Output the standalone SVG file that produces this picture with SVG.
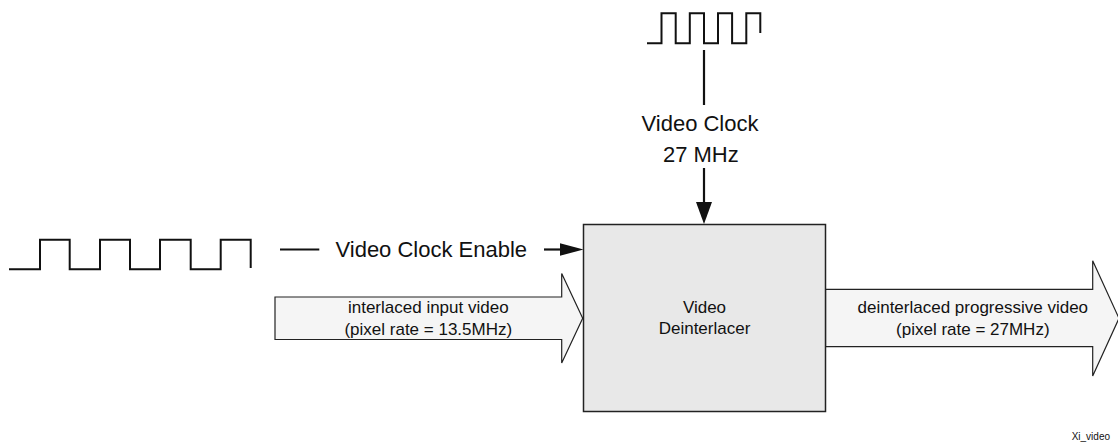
<svg xmlns="http://www.w3.org/2000/svg" width="1118" height="443" viewBox="0 0 1118 443">
  <style>
    text { font-family: "Liberation Sans", Arial, sans-serif; fill: #111; }
    .big { font-size: 22px; }
    .mid { font-size: 17px; text-anchor: middle; }
    .wave { fill: none; stroke: #111; stroke-width: 2; stroke-linejoin: miter; }
    .line { fill: none; stroke: #111; stroke-width: 2.2; }
    .fat { fill: #f5f5f5; stroke: #222; stroke-width: 1.2; }
  </style>
  <defs>
    <marker id="arrV" viewBox="0 0 16 22" refX="16" refY="8" markerUnits="userSpaceOnUse" markerWidth="16" markerHeight="22" orient="auto">
      <path d="M0,0 L22,8 L0,16 Z" fill="#111"/>
    </marker>
  </defs>

  <rect width="1118" height="443" fill="#ffffff"/>

  <g id="connectors">
    <!-- top clock waveform -->
    <path class="wave" d="M647,43.3 H661.5 V13.3 H675.7 V43.3 H689.8 V13.3 H704 V43.3 H718 V13.3 H732.1 V43.3 H746.3 V13.3 H760.3 V33"/>
    <line class="line" x1="704" y1="50" x2="704" y2="105"/>
    <line class="line" x1="704" y1="168" x2="704" y2="203"/>
    <polygon points="696,202 712,202 704,224" fill="#111"/>

    <!-- left clock enable waveform -->
    <path class="wave" d="M9,269.3 H40 V239.7 H69.7 V269.3 H100 V239.7 H130 V269.3 H160 V239.7 H190.7 V269.3 H220.7 V239.7 H250.7 V268"/>
    <line class="line" x1="280" y1="249.5" x2="319.3" y2="249.5"/>
    <line class="line" x1="544" y1="249.5" x2="562" y2="249.5"/>
    <polygon points="560,243.3 583.5,249.5 560,255.7" fill="#111"/>
  </g>

  <g id="input-arrow">
    <polygon class="fat" points="275,297 561.7,297 561.7,273.5 582.7,318.3 561.7,363 561.7,339.5 275,339.5"/>
    <text class="mid" x="428.3" y="313.3">interlaced input video</text>
    <text class="mid" x="428.3" y="335">(pixel rate = 13.5MHz)</text>
  </g>

  <g id="output-arrow">
    <polygon class="fat" points="825.5,289.3 1092.7,289.3 1092.7,260.7 1119,318.3 1092.7,376 1092.7,346.7 825.5,346.7"/>
    <text class="mid" x="972.8" y="313.3">deinterlaced progressive video</text>
    <text class="mid" x="972.8" y="335">(pixel rate = 27MHz)</text>
  </g>

  <g id="deinterlacer">
    <rect x="583.5" y="224.5" width="242" height="187" fill="#e8e8e8" stroke="#222" stroke-width="1.5"/>
    <text class="mid" x="704.5" y="313.3">Video</text>
    <text class="mid" x="704.5" y="334">Deinterlacer</text>
  </g>

  <g id="video-clock-label">
    <text class="big" x="700" y="131" text-anchor="middle">Video Clock</text>
    <text class="big" x="700.8" y="161.7" text-anchor="middle">27 MHz</text>
  </g>

  <g id="clock-enable-label">
    <text class="big" x="431.3" y="256.7" text-anchor="middle">Video Clock Enable</text>
  </g>

  <g id="footer">
    <text x="1110" y="440" font-size="10" text-anchor="end">Xi_video</text>
  </g>
</svg>
